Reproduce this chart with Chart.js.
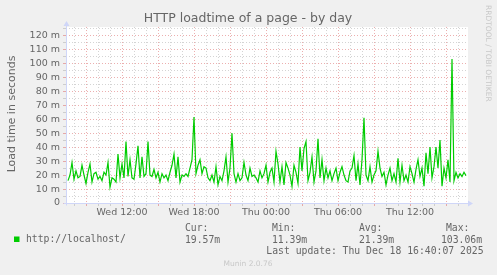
<!DOCTYPE html>
<html>
<head>
<meta charset="utf-8">
<title>HTTP loadtime of a page - by day</title>
<script src="https://cdn.jsdelivr.net/npm/chart.js@4.4.0/dist/chart.umd.min.js"></script>
<style>
  html, body { margin: 0; padding: 0; background: #f0f0f0; }
  #wrap { width: 497px; height: 275px; }
</style>
</head>
<body>
<div id="wrap"><canvas id="myChart" width="497" height="275"></canvas></div>
<script>
// one sample every 10 minutes, first one Wed 07:30 (minutes since Wed 00:00)
const firstSample = 450;
const sampleStep = 10;

// load time in milliseconds
const loadtime = [
  16, 20, 29, 17, 23, 18, 19, 27, 20, 14, 22, 28, 15, 21, 22, 17, 19, 16, 22, 20,
  29, 11.39, 18, 17, 15, 35, 18, 28, 18, 44, 19, 31, 18, 17, 28, 41, 18, 33, 19, 21,
  44, 20, 19, 24, 18, 22, 15, 21, 18, 20, 16, 22, 27, 35, 18, 33, 15, 20, 19, 21,
  19, 25, 31, 61.5, 21, 27, 31, 21, 26, 25, 18, 16, 20, 15, 26, 13, 19, 16, 23, 33,
  15, 25, 50, 21, 15, 21, 16, 18, 29, 20, 16, 25, 19, 20, 18, 15, 23, 18, 21, 27,
  15, 22, 25, 15, 37, 28, 15, 26, 13, 29, 25, 20, 12, 27, 22, 14, 40, 23, 39, 44,
  16, 22, 33, 15, 23, 46, 18, 31, 16, 25, 18, 23, 16, 21, 25, 16, 22, 26, 20, 16,
  15, 23, 25, 34, 16, 28, 13, 31, 61, 20, 16, 26, 15, 20, 23, 37, 25, 19, 22, 13,
  20, 25, 16, 21, 15, 32, 15, 27, 16, 20, 15, 26, 21, 15, 24, 31, 19, 25, 12, 36,
  21, 40, 18, 26, 40, 25, 45, 12, 25, 18, 31, 15, 103.06, 16, 22, 18, 21, 19, 22, 19.57
];

// x axis labels (minutes since Wed 00:00)
const labelTimes = [720, 1080, 1440, 1800, 2160];
const labelTexts = ["Wed 12:00", "Wed 18:00", "Thu 00:00", "Thu 06:00", "Thu 12:00"];

// legend
const seriesName = "http://localhost/";
const statNames = ["Cur:", "Min:", "Avg:", "Max:"];
const statValues = ["19.57m", "11.39m", "21.39m", "103.06m"];
const lastUpdate = "Last update: Thu Dec 18 16:40:07 2025";

const fontColor = "#666666";
const axisColor = "#cfd6f8";
const green = "#00cc00";

function gridColor(major) {
  return major ? "rgba(220, 110, 110, 0.55)" : "rgba(170, 170, 170, 0.5)";
}

const points = loadtime.map((v, i) => ({ x: firstSample + i * sampleStep, y: v }));

// munin / rrdtool decorations: background, axes with arrows, texts
const muninLook = {
  id: "muninLook",
  beforeDraw(chart) {
    const { ctx, chartArea: a } = chart;
    ctx.save();
    ctx.fillStyle = "#f0f0f0";
    ctx.fillRect(0, 0, chart.width, chart.height);
    ctx.fillStyle = "#ffffff";
    ctx.fillRect(a.left, a.top, a.right - a.left, a.bottom - a.top);
    ctx.restore();
  },
  afterDraw(chart) {
    const { ctx, chartArea: a } = chart;
    ctx.save();

    // axes
    const ax = a.left + 0.5;
    const ay = a.bottom + 0.5;
    ctx.strokeStyle = axisColor;
    ctx.fillStyle = axisColor;
    ctx.lineWidth = 1;
    ctx.beginPath();
    ctx.moveTo(ax, ay + 2);
    ctx.lineTo(ax, a.top - 3);
    ctx.moveTo(ax - 3, ay);
    ctx.lineTo(a.right + 2, ay);
    ctx.stroke();
    ctx.beginPath();
    ctx.moveTo(ax, a.top - 6);
    ctx.lineTo(ax - 3, a.top - 1);
    ctx.lineTo(ax + 3, a.top - 1);
    ctx.closePath();
    ctx.fill();
    ctx.beginPath();
    ctx.moveTo(a.right + 5, ay);
    ctx.lineTo(a.right, ay - 3);
    ctx.lineTo(a.right, ay + 3);
    ctx.closePath();
    ctx.fill();

    // title
    ctx.fillStyle = fontColor;
    ctx.font = "12.5px 'DejaVu Sans'";
    ctx.textAlign = "center";
    ctx.textBaseline = "middle";
    ctx.fillText("HTTP loadtime of a page - by day", 248, 19);

    // vertical axis title
    ctx.save();
    ctx.translate(15, 114);
    ctx.rotate(-Math.PI / 2);
    ctx.font = "11px 'DejaVu Sans'";
    ctx.textBaseline = "alphabetic";
    ctx.fillText("Load time in seconds", 0, 0);
    ctx.restore();

    // legend
    ctx.fillStyle = green;
    ctx.fillRect(14, 236.5, 5.5, 5.5);
    ctx.fillStyle = fontColor;
    ctx.font = "9.75px 'DejaVu Sans Mono'";
    ctx.textAlign = "left";
    ctx.fillText(seriesName, 26, 239.5);
    const headX = [185, 272, 359, 446];
    const valX = [185, 272, 359, 441];
    for (let i = 0; i < statNames.length; i++) {
      ctx.fillText(statNames[i], headX[i], 228);
      ctx.fillText(statValues[i], valX[i], 240);
    }
    ctx.textAlign = "right";
    ctx.fillText(lastUpdate, 483.5, 251.5);

    // watermarks
    ctx.fillStyle = "#c8c8c8";
    ctx.font = "7.5px 'DejaVu Sans'";
    ctx.textAlign = "center";
    ctx.fillText("Munin 2.0.76", 248, 264.5);
    ctx.save();
    ctx.translate(488, 5);
    ctx.rotate(Math.PI / 2);
    ctx.textAlign = "left";
    ctx.fillText("RRDTOOL / TOBI OETIKER", 0, 0);
    ctx.restore();

    ctx.restore();
  },
};

const ctx = document.getElementById("myChart").getContext("2d");

const chartConfig = {
  type: "line",
  data: {
    datasets: [
      {
        data: points,
        borderColor: green,
        borderWidth: 1.2,
        pointRadius: 0,
        tension: 0,
        fill: false,
      },
    ],
  },
  options: {
    responsive: false,
    animation: false,
    devicePixelRatio: 1,
    layout: { padding: { top: 27, right: 29, left: 0, bottom: 0 } },
    plugins: {
      legend: { display: false },
      tooltip: { enabled: false },
    },
    scales: {
      x: {
        type: "linear",
        min: 440,
        max: 2450,
        afterFit: (scale) => { scale.height = 72; },
        border: { display: false, dash: [1, 2] },
        grid: {
          color: (c) => gridColor(c.tick.value % 180 === 0),
          tickColor: (c) => gridColor(c.tick.value % 180 === 0),
          tickLength: 3,
        },
        ticks: {
          stepSize: 60,
          includeBounds: false,
          autoSkip: false,
          maxRotation: 0,
          padding: 1,
          color: fontColor,
          font: { family: "DejaVu Sans", size: 9.5 },
          callback: (v) => {
            const k = labelTimes.indexOf(v);
            return k < 0 ? "" : labelTexts[k];
          },
        },
      },
      y: {
        min: 0,
        max: 126,
        afterFit: (scale) => { scale.width = 66; },
        border: { display: false, dash: [1, 2] },
        grid: {
          color: (c) => gridColor(c.tick.value % 10 === 0),
          tickColor: (c) => gridColor(c.tick.value % 10 === 0),
          tickLength: 3,
        },
        ticks: {
          stepSize: 5,
          includeBounds: false,
          autoSkip: false,
          padding: 3,
          color: fontColor,
          font: { family: "DejaVu Sans", size: 9.5 },
          callback: (v) => (v % 10 !== 0 ? "" : v === 0 ? "0" : v + " m"),
        },
      },
    },
  },
  plugins: [muninLook],
};

const loadChart = new Chart(ctx, chartConfig);
</script>
</body>
</html>
